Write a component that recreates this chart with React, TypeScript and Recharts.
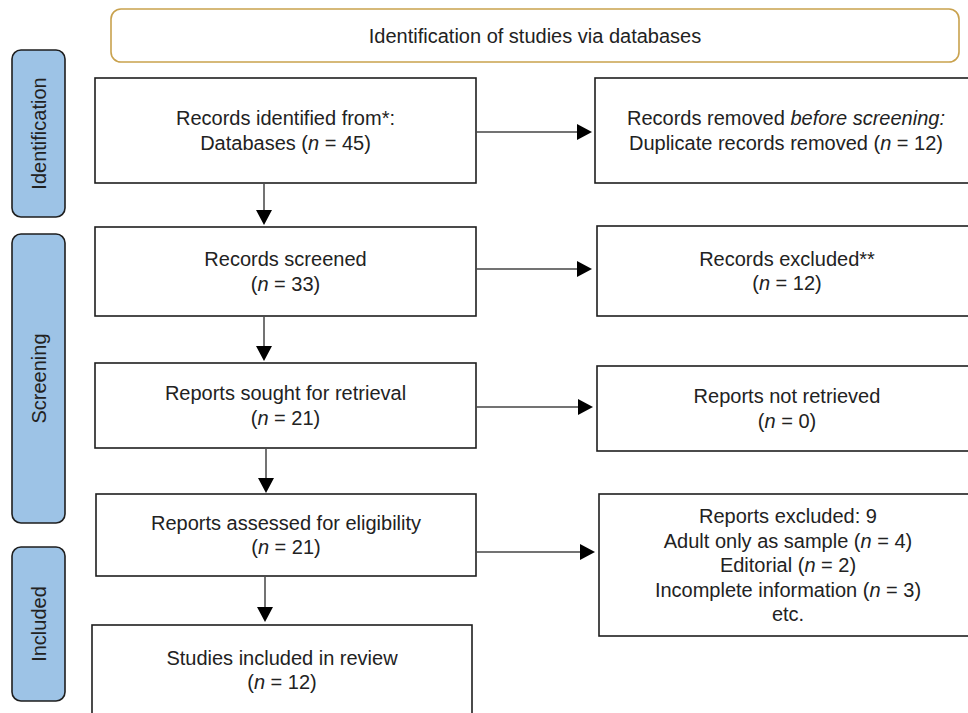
import React from 'react';
import { ComposedChart, XAxis, YAxis, ReferenceArea, ReferenceLine, ReferenceDot } from 'recharts';

// ---------- data ----------
const headerTitle = 'Identification of studies via databases';
const phases = ['Identification', 'Screening', 'Included'];
const mainStages = [
  'Records identified from*:',
  'Records screened',
  'Reports sought for retrieval',
  'Reports assessed for eligibility',
  'Studies included in review',
];
const mainCounts = [45, 33, 21, 21, 12];
const sideStages = ['Records removed ', 'Records excluded**', 'Reports not retrieved', 'Reports excluded: '];
const sideCounts = [12, 12, 0, 9];
const exclusionReasons = ['Adult only as sample', 'Editorial', 'Incomplete information'];
const exclusionCounts = [4, 2, 3];

// ---------- layout (kept apart from the data) ----------
const W = 968;
const H = 713;
const FONT = '"Liberation Sans", Arial, Helvetica, sans-serif';
const TEXT = '#222222';
const BOX_STROKE = '#1e1e1e';
const LINE = '#444444';
const FS = 20;
const LH = 24.5;

const headerBox = { x1: 111, x2: 959, y1: 9, y2: 62 };
const phaseBoxes = [
  { y1: 50, y2: 217 },
  { y1: 234, y2: 523 },
  { y1: 547, y2: 701 },
];
const mainBoxes = [
  { x1: 95, x2: 476, y1: 78, y2: 183 },
  { x1: 95, x2: 476, y1: 227, y2: 316 },
  { x1: 95, x2: 476, y1: 363, y2: 448 },
  { x1: 96, x2: 476, y1: 494, y2: 576 },
  { x1: 92, x2: 472, y1: 625, y2: 716 },
];
const sideBoxes = [
  { x1: 595, y1: 78, y2: 183 },
  { x1: 597, y1: 226, y2: 316 },
  { x1: 597, y1: 366, y2: 451 },
  { x1: 599, y1: 494, y2: 636 },
];
const SIDE_X2 = 977;
const vArrows = [
  { x: 264, y1: 184, y2: 225 },
  { x: 264, y1: 317, y2: 361 },
  { x: 266, y1: 449, y2: 493 },
  { x: 265, y1: 577, y2: 622 },
];
const hArrows = [
  { y: 132, x1: 476, x2: 592 },
  { y: 269, x1: 476, x2: 592 },
  { y: 407, x1: 476, x2: 593 },
  { y: 552, x1: 476, x2: 595 },
];
const HEAD_LEN = 15;
const HEAD_HALF = 8;

type Seg = [string, boolean?];
type Line = Seg[];

const nLine = (prefix: string, c: number): Line => [[prefix + '('], ['n', true], [` = ${c})`]];

const mainLines: Line[][] = mainStages.map((s, i) =>
  i === 0 ? [[[s]], nLine('Databases ', mainCounts[i])] : [[[s]], nLine('', mainCounts[i])]
);

const sideLines: Line[][] = [
  [[[sideStages[0]], ['before screening:', true]], nLine('Duplicate records removed ', sideCounts[0])],
  [[[sideStages[1]]], nLine('', sideCounts[1])],
  [[[sideStages[2]]], nLine('', sideCounts[2])],
  [
    [[sideStages[3] + sideCounts[3]]],
    ...exclusionReasons.map((r, i) => nLine(r + ' ', exclusionCounts[i])),
    [['etc.']],
  ],
];

const TextBlock = ({ cx, cy, lines }: { cx: number; cy: number; lines: Line[] }) => (
  <g>
    {lines.map((ln, i) => (
      <text
        key={i}
        x={cx}
        y={cy + (i - (lines.length - 1) / 2) * LH}
        textAnchor="middle"
        dominantBaseline="central"
        fontFamily={FONT}
        fontSize={FS}
        fill={TEXT}
      >
        {ln.map((sg, j) => (
          <tspan key={j} fontStyle={sg[1] ? 'italic' : 'normal'}>
            {sg[0]}
          </tspan>
        ))}
      </text>
    ))}
  </g>
);

const makeBoxShape =
  (lines: Line[], textCx?: number, textCy?: number) =>
  (p: any) => {
    const { x, y, width, height } = p;
    const cx = textCx !== undefined ? p.xAxis?.scale?.(textCx) ?? textCx : x + width / 2;
    const cy = textCy !== undefined ? textCy : y + height / 2;
    return (
      <g>
        <rect x={x} y={y} width={width} height={height} fill="#ffffff" stroke={BOX_STROKE} strokeWidth={1.6} />
        <TextBlock cx={cx} cy={cy} lines={lines} />
      </g>
    );
  };

const headerShape = (p: any) => {
  const { x, y, width, height } = p;
  return (
    <g>
      <rect x={x} y={y} width={width} height={height} rx={10} ry={10} fill="#ffffff" stroke="#C9A24E" strokeWidth={1.6} />
      <TextBlock cx={x + width / 2} cy={y + height / 2} lines={[[[headerTitle]]]} />
    </g>
  );
};

const phaseShape = (label: string) => (p: any) => {
  const { x, y, width, height } = p;
  const cx = x + width / 2;
  const cy = y + height / 2;
  return (
    <g>
      <rect x={x} y={y} width={width} height={height} rx={9} ry={9} fill="#9DC3E6" stroke={BOX_STROKE} strokeWidth={1.6} />
      <text
        x={cx}
        y={cy}
        transform={`rotate(-90 ${cx} ${cy})`}
        textAnchor="middle"
        dominantBaseline="central"
        fontFamily={FONT}
        fontSize={FS}
        fill={TEXT}
      >
        {label}
      </text>
    </g>
  );
};

const downHead = (p: any) => {
  const { cx, cy } = p;
  return <path d={`M${cx - HEAD_HALF},${cy - HEAD_LEN} L${cx + HEAD_HALF},${cy - HEAD_LEN} L${cx},${cy} Z`} fill="#000" />;
};
const rightHead = (p: any) => {
  const { cx, cy } = p;
  return <path d={`M${cx - HEAD_LEN},${cy - HEAD_HALF} L${cx - HEAD_LEN},${cy + HEAD_HALF} L${cx},${cy} Z`} fill="#000" />;
};

export default function App() {
  return (
    <div style={{ position: 'absolute', left: 0, top: 0, width: W, height: H, background: '#ffffff' }}>
      <ComposedChart width={W} height={H} margin={{ top: 0, right: 0, bottom: 0, left: 0 }} data={[]}>
        <XAxis type="number" dataKey="x" domain={[0, W]} allowDataOverflow hide />
        <YAxis type="number" dataKey="y" domain={[0, H]} allowDataOverflow reversed hide />

        <ReferenceArea
          x1={headerBox.x1}
          x2={headerBox.x2}
          y1={headerBox.y1}
          y2={headerBox.y2}
          ifOverflow="visible"
          shape={headerShape}
        />

        {phaseBoxes.map((b, i) => (
          <ReferenceArea key={`ph${i}`} x1={12} x2={65} y1={b.y1} y2={b.y2} ifOverflow="visible" shape={phaseShape(phases[i])} />
        ))}

        {vArrows.map((a, i) => (
          <ReferenceLine
            key={`vl${i}`}
            segment={[
              { x: a.x, y: a.y1 },
              { x: a.x, y: a.y2 - HEAD_LEN + 1 },
            ]}
            stroke={LINE}
            strokeWidth={1.5}
            ifOverflow="visible"
          />
        ))}
        {hArrows.map((a, i) => (
          <ReferenceLine
            key={`hl${i}`}
            segment={[
              { x: a.x1, y: a.y },
              { x: a.x2 - HEAD_LEN + 1, y: a.y },
            ]}
            stroke={LINE}
            strokeWidth={1.5}
            ifOverflow="visible"
          />
        ))}

        {mainBoxes.map((b, i) => (
          <ReferenceArea
            key={`mb${i}`}
            x1={b.x1}
            x2={b.x2}
            y1={b.y1}
            y2={b.y2}
            ifOverflow="visible"
            shape={makeBoxShape(mainLines[i], undefined, i === 4 ? 670 : undefined)}
          />
        ))}
        {sideBoxes.map((b, i) => (
          <ReferenceArea
            key={`sb${i}`}
            x1={b.x1}
            x2={SIDE_X2}
            y1={b.y1}
            y2={b.y2}
            ifOverflow="visible"
            shape={makeBoxShape(sideLines[i])}
          />
        ))}

        {vArrows.map((a, i) => (
          <ReferenceDot key={`vh${i}`} x={a.x} y={a.y2} ifOverflow="visible" shape={downHead} />
        ))}
        {hArrows.map((a, i) => (
          <ReferenceDot key={`hh${i}`} x={a.x2} y={a.y} ifOverflow="visible" shape={rightHead} />
        ))}
      </ComposedChart>
    </div>
  );
}
